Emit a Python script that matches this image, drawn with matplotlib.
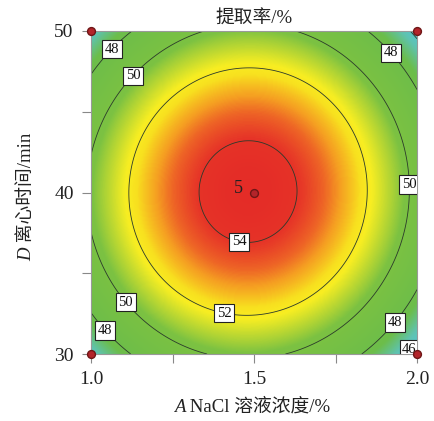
"""Response surface contour: extraction rate vs NaCl concentration and centrifuge time."""
import matplotlib.pyplot as plt
import matplotlib.transforms as mtransforms
import numpy as np
from matplotlib.colors import LinearSegmentedColormap

plt.rcParams["font.family"] = ["Liberation Serif", "Noto Sans CJK SC"]

# fitted quadratic model in coded units: a = (A-1.5)/0.5, d = (D-40)/10
coef_names = ["b0", "A", "D", "AD", "A2", "D2"]
coef_vals = [54.4, -0.33, 0.05, 0.1, -4.5, -4.1]

# design points (factor levels) and replicate counts
design_A = [1.0, 1.0, 2.0, 2.0, 1.5]
design_D = [30, 50, 30, 50, 40]
design_runs = [1, 1, 1, 1, 5]

levels = [46, 48, 50, 52, 54]
label_pos = [(1.058, 49.0), (1.12, 47.4), (1.923, 48.7), (1.972, 40.5),
             (1.454, 36.9), (1.408, 32.5), (1.107, 33.2), (1.049, 31.55),
             (1.929, 32.0), (1.963, 30.56)]

c = dict(zip(coef_names, coef_vals))
A = np.linspace(1.0, 2.0, 300)
D = np.linspace(30, 50, 300)
AA, DD = np.meshgrid(A, D)
a = (AA - 1.5) / 0.5
d = (DD - 40) / 10
Y = (c["b0"] + c["A"] * a + c["D"] * d + c["AD"] * a * d
     + c["A2"] * a ** 2 + c["D2"] * d ** 2)

vmin, vmax = 45.3, 54.6
anchors = [(45.3, "#4fc4e4"), (46.5, "#5fc3b0"), (47.6, "#6cbd4a"),
           (50.3, "#7cc242"), (51.2, "#c2da30"), (51.85, "#f8ee22"),
           (52.3, "#f8e01f"), (53.0, "#f59e22"), (53.45, "#ee6526"),
           (54.0, "#e63328"), (54.6, "#e42a27")]
cmap = LinearSegmentedColormap.from_list(
    "de", [((v - vmin) / (vmax - vmin), col) for v, col in anchors])

fig = plt.figure(figsize=(4.34, 4.21), dpi=100)
ax = fig.add_axes([0.2097, 0.1591, 0.7512, 0.7673])

ax.imshow(Y, origin="lower", extent=(1.0, 2.0, 30, 50), aspect="auto",
          cmap=cmap, vmin=vmin, vmax=vmax, interpolation="bilinear")
cs = ax.contour(AA, DD, Y, levels=levels, colors="#2b3a2b", linewidths=0.6)
texts = ax.clabel(cs, levels, manual=label_pos, inline=False, fmt="%d",
                  fontsize=10.5)
for t in texts:
    t.set_rotation(0)
    t.set_color("#111111")
    t.set_bbox(dict(boxstyle="square,pad=0.18", fc="white", ec="#222222", lw=0.8))
    t.set_zorder(5)

ax.scatter(design_A, design_D, s=32, c="#b3242a", edgecolors="#6e1616",
           linewidths=1.0, zorder=6, clip_on=False)
for xa, yd, n in zip(design_A, design_D, design_runs):
    if n > 1:
        ax.annotate(str(n), (xa, yd), xytext=(-8, 3), textcoords="offset points",
                    ha="right", va="center", fontsize=13, color="#222222")

ax.set_xlim(1.0, 2.0)
ax.set_ylim(30, 50)
ax.set_xticks([1.0, 1.25, 1.5, 1.75, 2.0])
ax.set_xticklabels(["1.0", "", "1.5", "", "2.0"])
ax.set_yticks([30, 35, 40, 45, 50])
ax.set_yticklabels(["30", "", "40", "", "50"])
ax.tick_params(length=6.5, width=0.8, color="#888888", pad=6,
               labelsize=14, labelcolor="#222222")
for s in ax.spines.values():
    s.set_color("#999999")
    s.set_linewidth(0.8)

ax.set_title("提取率/%", fontsize=13.5, color="#222222", pad=5)

# axis labels: italic factor letter followed by the name (pixel coordinates)
px = mtransforms.IdentityTransform()
r = fig.canvas.get_renderer()
lab = dict(fontsize=13.5, color="#222222", transform=px)

xa1 = fig.text(0, 0, "A", style="italic", va="baseline", **lab)
xa2 = fig.text(0, 0, " NaCl 溶液浓度/%", va="baseline", **lab)
w1 = xa1.get_window_extent(r).width
w2 = xa2.get_window_extent(r).width
x0 = 252 - (w1 + w2) / 2
xa1.set_position((x0, 421 - 412))
xa2.set_position((x0 + w1, 421 - 412))

ya1 = fig.text(0, 0, "D", style="italic", rotation=90, rotation_mode="anchor",
               ha="left", va="baseline", **lab)
ya2 = fig.text(0, 0, " 离心时间/min", rotation=90, rotation_mode="anchor",
               ha="left", va="baseline", **lab)
h1 = ya1.get_window_extent(r).height
h2 = ya2.get_window_extent(r).height
y0 = (421 - 197) - (h1 + h2) / 2
ya1.set_position((31, y0))
ya2.set_position((31, y0 + h1))

fig.savefig("out.png", dpi=100)
